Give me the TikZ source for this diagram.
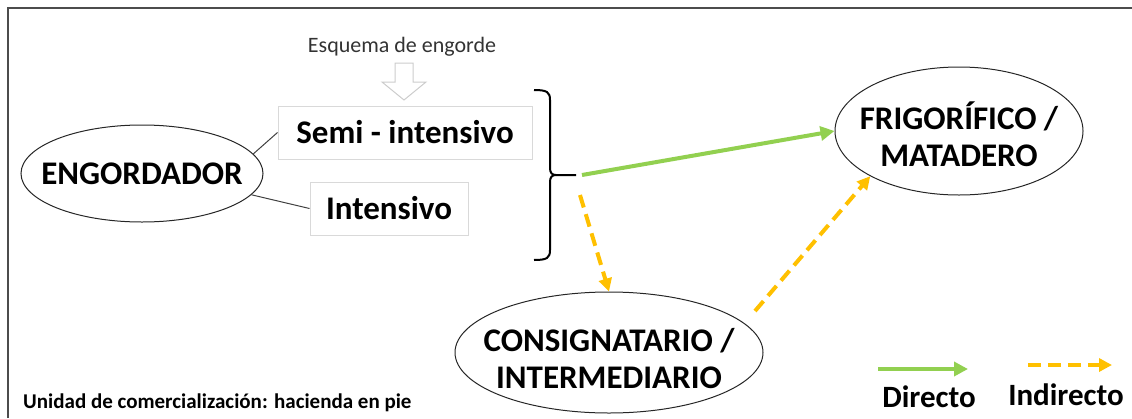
\documentclass[tikz,border=0pt]{standalone}
\usepackage{fontspec}
\setmainfont{Carlito}
\usetikzlibrary{shapes.geometric,arrows.meta}
\definecolor{dgreen}{HTML}{92D050}
\definecolor{dyellow}{HTML}{FFC000}
\begin{document}
\begin{tikzpicture}[x=1pt,y=-1pt,
  big/.style={font=\fontsize{33}{37}\selectfont\bfseries, align=center},
  oval/.style={ellipse, draw=black!85, line width=1pt, inner xsep=-25pt, inner ysep=-15pt, big},
  optbox/.style={rectangle, draw=black!15, line width=1pt, inner sep=0pt, big},
  link/.style={draw=black!75, line width=1pt},
  direct/.style={draw=dgreen, line width=4pt, -{Triangle[length=14pt,width=14pt]}},
  indirect/.style={draw=dyellow, line width=4pt, dash pattern=on 13pt off 7pt, -{Triangle[length=13pt,width=13pt]}},
  legend/.style={font=\fontsize{31}{36}\selectfont\bfseries, inner sep=0pt},
  plain/.style={inner sep=0pt},
]
\useasboundingbox (0,0) rectangle (1132,418);
\draw[line width=1.5pt, black!70] (8,418) -- (8,8) -- (1132,8);

% header and hollow arrow
\node[plain, font=\fontsize{22}{24}\selectfont, text=black!80] (esq) at (402,47) {Esquema de engorde};
\draw[black!20, line width=1pt] (395,63) -- (413,63) -- (413,82) -- (426,82) -- (404,100) -- (382,82) -- (395,82) -- cycle;

% nodes
\node[optbox, minimum width=254pt, minimum height=53pt] (semi) at (405,132.5) {Semi - intensivo};
\node[optbox, minimum width=158pt, minimum height=53pt] (inten) at (389,208.5) {Intensivo};
\node[oval, minimum width=242pt, minimum height=97pt] (engo) at (142,173.5) {ENGORDADOR};
\node[oval, minimum width=248pt, minimum height=128pt] (frig) at (959,131) {\rule{0pt}{35pt}FRIGORÍFICO /\\MATADERO};
\node[oval, minimum width=308pt, minimum height=121pt] (cons) at (609,352.5) {\rule{0pt}{35pt}CONSIGNATARIO /\\INTERMEDIARIO};

% links from engordador
\draw[link] (engo.10) -- (semi.west);
\draw[link] (engo.-11) -- (inten.west);

% brace
\draw[line width=2pt, black] (534,90) .. controls (547,90) and (550,92) .. (550,100) -- (550,168)
  .. controls (550,173) and (552,175) .. (556,175) -- (576,175);
\draw[line width=2pt, black] (556,175) .. controls (552,175) and (550,177) .. (550,182) -- (550,250)
  .. controls (550,258) and (547,260) .. (534,260);

% flows
\coordinate (gstart) at (582,175);
\coordinate (ystart) at (580,195);
\coordinate (ystart2) at (755,311);
\draw[direct] (gstart) -- (frig.west);
\draw[indirect] (ystart) -- (cons.north);
\draw[indirect] (ystart2) -- (frig.207);

% legend
\coordinate (lg1) at (878,369);
\coordinate (lg2) at (968,369);
\coordinate (ly1) at (1028,365);
\coordinate (ly2) at (1112,365);
\draw[direct] (lg1) -- (lg2);
\draw[indirect] (ly1) -- (ly2);
\node[legend] (ldir) at (929,397) {Directo};
\node[legend] (lind) at (1066,395) {Indirecto};

% footnote
\node[plain, font=\fontsize{21}{24}\selectfont\bfseries, anchor=west] (unidad) at (23,403) {Unidad de comercialización: hacienda en pie};
\end{tikzpicture}
\end{document}
